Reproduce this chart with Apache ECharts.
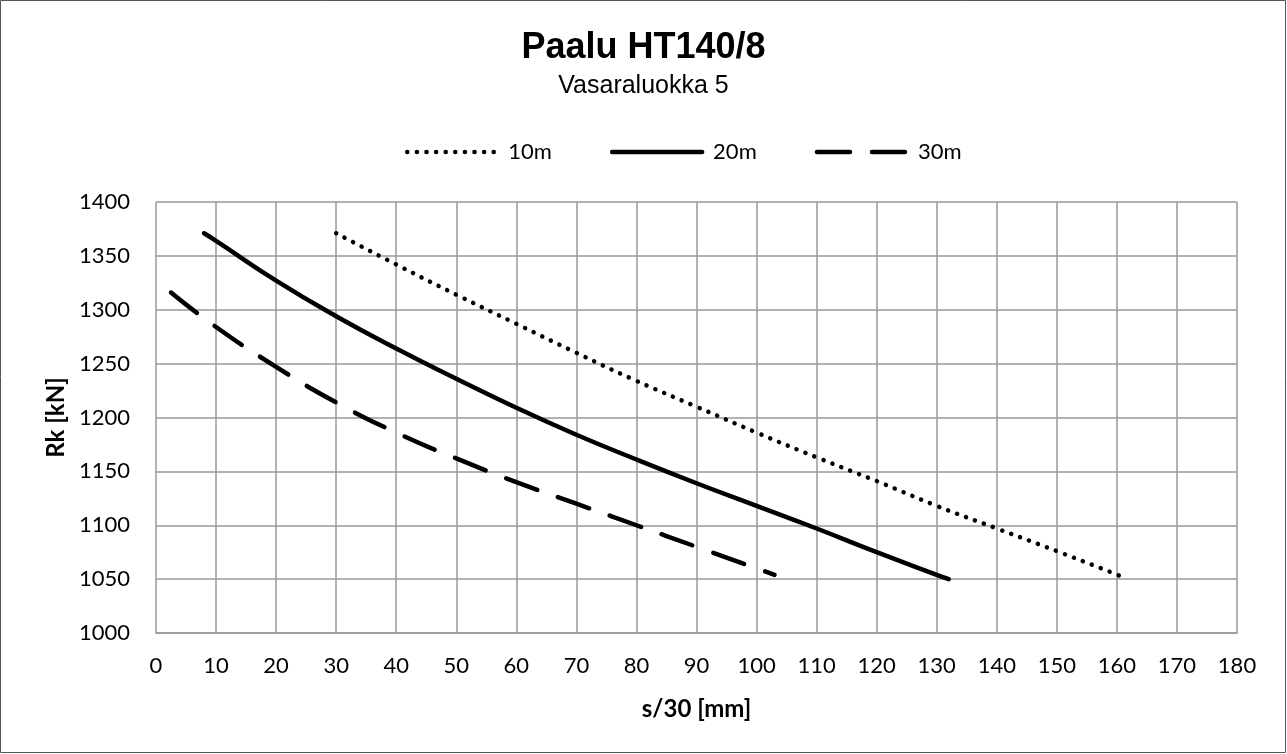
<!DOCTYPE html>
<html>
<head>
<meta charset="utf-8">
<script src="https://cdn.jsdelivr.net/npm/echarts@6/dist/echarts.min.js"></script>
<style>
  html, body { margin: 0; padding: 0; background: #fff; }
  #main { width: 1287px; height: 754px; }
</style>
</head>
<body>
<div id="main"></div>
<script>
// s/30 [mm] ja Rk [kN] luettuna kuvaajasta
var x10 = [30, 40, 50, 60, 70, 80, 90, 100, 110, 120, 130, 140, 150, 161];
var y10 = [1371, 1342, 1314, 1287, 1260, 1234, 1210, 1186, 1163, 1141, 1118, 1097, 1076, 1052];

var x20 = [8, 10, 20, 30, 40, 50, 60, 70, 80, 90, 100, 110, 120, 130, 132];
var y20 = [1371, 1364, 1327, 1294, 1264, 1236, 1209, 1184, 1161, 1139, 1118, 1097, 1075, 1054, 1050];

var x30 = [2.5, 10, 20, 30, 40, 50, 60, 70, 80, 90, 100, 103];
var y30 = [1316, 1284, 1247, 1214, 1186, 1162, 1140, 1120, 1100, 1080, 1060, 1054];

var seriesNames = ['10m', '20m', '30m'];

function pairs(xs, ys) {
  var out = [];
  for (var i = 0; i < xs.length; i++) out.push([xs[i], ys[i]]);
  return out;
}

var chart = echarts.init(document.getElementById('main'));

var labelFont = 'Lato, "Open Sans", sans-serif';

var option = {
  backgroundColor: '#fff',
  animation: false,
  title: [
    {
      text: 'Paalu HT140/8',
      left: 'center',
      top: 25,
      textStyle: { fontFamily: 'Liberation Sans', fontSize: 36, fontWeight: 'bold', color: '#000' }
    },
    {
      text: 'Vasaraluokka 5',
      left: 'center',
      top: 69,
      textStyle: { fontFamily: 'Liberation Sans', fontSize: 25, fontWeight: 'normal', color: '#000' }
    }
  ],
  legend: {
    data: seriesNames,
    left: 400,
    top: 136,
    itemWidth: 90,
    itemHeight: 20,
    itemGap: 58,
    itemStyle: { opacity: 0 },
    lineStyle: { width: 4.5 },
    textStyle: { fontFamily: labelFont, fontSize: 22, color: '#000', padding: [0, 0, 0, 6] }
  },
  grid: {
    left: 156,
    right: 50,
    top: 202,
    bottom: 121
  },
  xAxis: {
    type: 'value',
    min: 0,
    max: 180,
    interval: 10,
    name: 's/30 [mm]',
    nameLocation: 'middle',
    nameGap: 64,
    nameTextStyle: { fontFamily: labelFont, fontSize: 24, fontWeight: 'bold', color: '#000' },
    axisLine: { lineStyle: { color: '#999', width: 1.5 } },
    axisTick: { show: false },
    axisLabel: { fontFamily: labelFont, fontSize: 22, color: '#000', margin: 22 },
    splitLine: { lineStyle: { color: '#999', width: 1.5 } }
  },
  yAxis: {
    type: 'value',
    min: 1000,
    max: 1400,
    interval: 50,
    name: 'Rk [kN]',
    nameLocation: 'middle',
    nameGap: 86,
    nameRotate: 90,
    nameTextStyle: { fontFamily: labelFont, fontSize: 24, fontWeight: 'bold', color: '#000' },
    axisLine: { show: false },
    axisTick: { show: false },
    axisLabel: {
      fontFamily: labelFont, fontSize: 22, color: '#000', margin: 26,
      formatter: function (v) { return String(v); }
    },
    splitLine: { lineStyle: { color: '#999', width: 1.5 } }
  },
  series: [
    {
      name: seriesNames[0],
      type: 'line',
      smooth: true,
      symbol: 'none',
      data: pairs(x10, y10),
      lineStyle: { color: '#000', width: 4.5, type: [0.1, 9.5], cap: 'round' },
      itemStyle: { color: '#000' }
    },
    {
      name: seriesNames[1],
      type: 'line',
      smooth: true,
      symbol: 'none',
      data: pairs(x20, y20),
      lineStyle: { color: '#000', width: 4.5, type: 'solid', cap: 'round' },
      itemStyle: { color: '#000' }
    },
    {
      name: seriesNames[2],
      type: 'line',
      smooth: true,
      symbol: 'none',
      data: pairs(x30, y30),
      lineStyle: { color: '#000', width: 4.5, type: [33, 22], cap: 'round' },
      itemStyle: { color: '#000' }
    }
  ],
  graphic: [
    {
      type: 'rect',
      shape: { x: 0.5, y: 0.5, width: 1285, height: 752 },
      style: { fill: 'none', stroke: '#555', lineWidth: 1 },
      silent: true
    }
  ]
};

chart.setOption(option);
</script>
</body>
</html>
